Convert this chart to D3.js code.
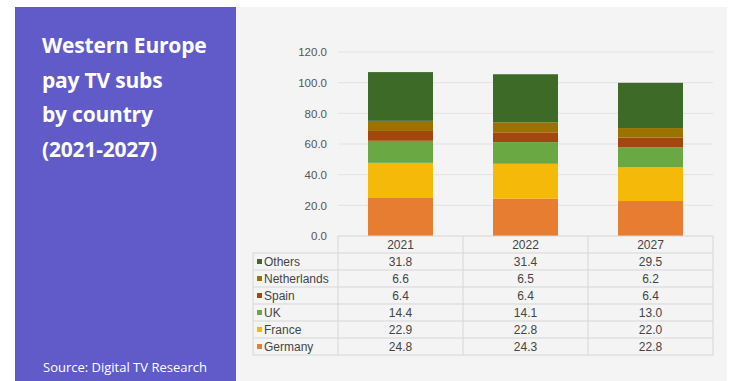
<!DOCTYPE html>
<html><head><meta charset="utf-8">
<script src="https://cdn.jsdelivr.net/npm/d3@7"></script>
<style>
html,body{margin:0;padding:0;background:#fff;}
svg{display:block;}
</style></head>
<body>
<svg id="chart" width="732" height="381"></svg>
<script>
const years = ["2021", "2022", "2027"];
const seriesNames = ["Germany", "France", "UK", "Spain", "Netherlands", "Others"];
const germany = [24.8, 24.3, 22.8];
const france = [22.9, 22.8, 22.0];
const uk = [14.4, 14.1, 13.0];
const spain = [6.4, 6.4, 6.4];
const netherlands = [6.6, 6.5, 6.2];
const others = [31.8, 31.4, 29.5];
const colors = ["#e67d30", "#f5b90a", "#6aa844", "#a4470e", "#9a7200", "#3e6a27"];
const yTicks = [0, 20, 40, 60, 80, 100, 120];
const titleLines = ["Western Europe", "pay TV subs", "by country", "(2021-2027)"];
const sourceText = "Source: Digital TV Research";

const values = [germany, france, uk, spain, netherlands, others];
const data = years.map((y, i) => {
  const o = {year: y};
  seriesNames.forEach((s, j) => o[s] = values[j][i]);
  return o;
});

const svg = d3.select("#chart");
svg.append("rect").attr("x", 236).attr("y", 7).attr("width", 491).attr("height", 374).attr("fill", "#f4f4f4");
svg.append("rect").attr("x", 15).attr("y", 7).attr("width", 221).attr("height", 374).attr("fill", "#605bc9");

const title = svg.append("text").attr("fill", "#fff")
  .attr("font-family", "Open Sans, Lato, sans-serif").attr("font-weight", "bold").attr("font-size", 21)
  .attr("letter-spacing", -0.2);
titleLines.forEach((t, i) => title.append("tspan").attr("x", 42).attr("y", 53 + i * 34.5).text(t));
svg.append("text").attr("x", 43).attr("y", 372).attr("fill", "#fff")
  .attr("font-family", "Open Sans, Lato, sans-serif").attr("font-size", 13).attr("letter-spacing", 0)
  .text(sourceText);

const pLeft = 338, pRight = 713, pTop = 52, pBottom = 236;
const x = d3.scaleBand().domain(years).range([pLeft, pRight]).paddingInner(0).paddingOuter(0);
const y = d3.scaleLinear().domain([0, 120]).range([pBottom, pTop]);

svg.append("g").selectAll("line").data(yTicks.filter(d => d > 0)).join("line")
  .attr("x1", pLeft).attr("x2", pRight).attr("y1", d => y(d)).attr("y2", d => y(d))
  .attr("stroke", "#e2e2e2").attr("stroke-width", 1);

const yAxis = d3.axisLeft(y).tickValues(yTicks).tickFormat(d3.format(".1f")).tickSize(0).tickPadding(11);
const ga = svg.append("g").attr("transform", `translate(${pLeft},0)`).call(yAxis);
ga.select(".domain").remove();
ga.selectAll("text").attr("font-family", "Liberation Sans, Arial, sans-serif").attr("font-size", 11.5).attr("fill", "#555");

const stack = d3.stack().keys(seriesNames)(data);
const bw = 65;
svg.append("g").selectAll("g").data(stack).join("g")
  .attr("fill", (d, i) => colors[i])
  .selectAll("rect").data(d => d).join("rect")
  .attr("x", d => x(d.data.year) + x.bandwidth() / 2 - bw / 2)
  .attr("width", bw)
  .attr("y", d => y(d[1]))
  .attr("height", d => y(d[0]) - y(d[1]));

const tableLeft = 253, headerH = 17, rowH = 17;
const rowsTop = pBottom + headerH;
const tbl = svg.append("g").attr("font-family", "Liberation Sans, Arial, sans-serif").attr("font-size", 12).attr("fill", "#444");
const lineColor = "#d6d6d6";
years.concat(["end"]).forEach((yr, i) => {
  const xx = i < years.length ? x(yr) : pRight;
  tbl.append("line").attr("x1", xx).attr("x2", xx).attr("y1", pBottom).attr("y2", rowsTop + rowH * 6)
    .attr("stroke", lineColor);
});
tbl.append("line").attr("x1", tableLeft).attr("x2", tableLeft).attr("y1", rowsTop).attr("y2", rowsTop + rowH * 6).attr("stroke", lineColor);
tbl.append("line").attr("x1", pLeft).attr("x2", pRight).attr("y1", pBottom).attr("y2", pBottom).attr("stroke", lineColor);
for (let r = 0; r <= 6; r++) {
  tbl.append("line").attr("x1", tableLeft).attr("x2", pRight)
    .attr("y1", rowsTop + r * rowH).attr("y2", rowsTop + r * rowH).attr("stroke", lineColor);
}
tbl.selectAll("text.hdr").data(years).join("text").attr("class", "hdr")
  .attr("x", d => x(d) + x.bandwidth() / 2).attr("y", pBottom + 12.5).attr("text-anchor", "middle").text(d => d);
const rowOrder = seriesNames.slice().reverse();
rowOrder.forEach((name, r) => {
  const idx = seriesNames.indexOf(name);
  const cy = rowsTop + r * rowH + rowH / 2;
  tbl.append("rect").attr("x", tableLeft + 4).attr("y", cy - 2.5).attr("width", 5).attr("height", 5).attr("fill", colors[idx]);
  tbl.append("text").attr("x", tableLeft + 11).attr("y", cy + 4.5).text(name);
  years.forEach((yr, i) => {
    tbl.append("text").attr("x", x(yr) + x.bandwidth() / 2).attr("y", cy + 4.5).attr("text-anchor", "middle")
      .text(d3.format(".1f")(values[idx][i]));
  });
});
</script>
</body></html>
